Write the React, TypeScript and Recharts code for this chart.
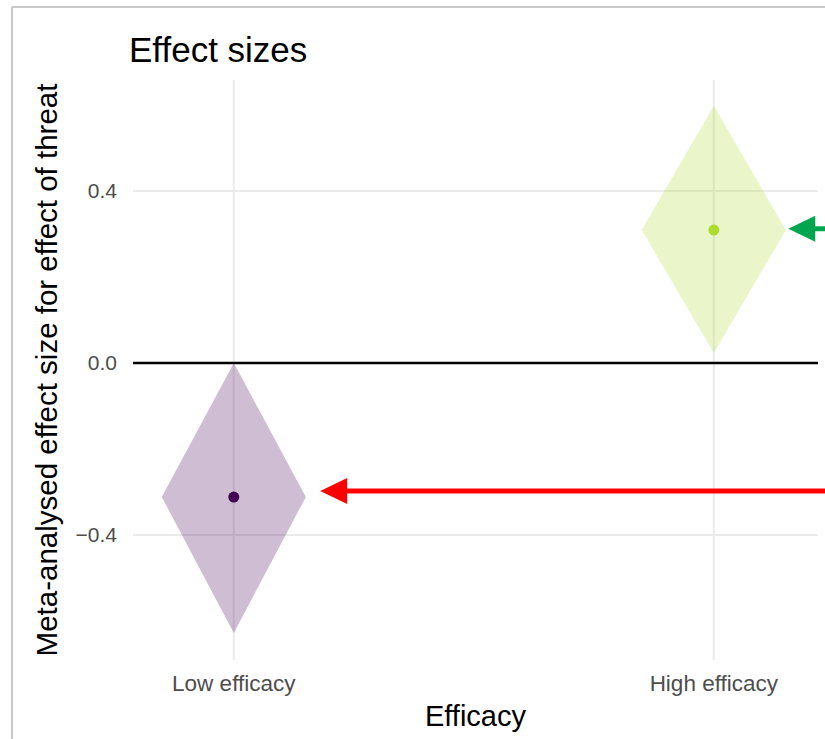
import React from 'react';
import {
  ComposedChart,
  Area,
  Scatter,
  XAxis,
  YAxis,
  CartesianGrid,
  ReferenceLine,
} from 'recharts';

// Values
const categories = ['Low efficacy', 'High efficacy'];
const categoryPos = [1, 2];
const estimates = [-0.312, 0.309];
const ciLower = [-0.628, 0.023];
const ciUpper = [0.0, 0.598];
const pointColors = ['#440154', '#addc30'];
const yTicks = [-0.4, 0, 0.4];

// annotation arrows (tip -> tail, in data units)
const arrowTips = [
  { x: 1.18, y: -0.298 },
  { x: 2.155, y: 0.312 },
];
const arrowTailX = 2.26;
const arrowColors = ['#ff0000', '#00a64f'];

const DIAMOND_HALF = 0.15;
const FONT = '"Liberation Sans", Arial, Helvetica, sans-serif';

const diamonds = categoryPos.map((c, i) => [
  { x: c - DIAMOND_HALF, r: [estimates[i], estimates[i]] },
  { x: c, r: [ciLower[i], ciUpper[i]] },
  { x: c + DIAMOND_HALF, r: [estimates[i], estimates[i]] },
]);

const points = categoryPos.map((c, i) => ({ x: c, y: estimates[i] }));

const fmtY = (v: number) => {
  if (v === 0) return '0.0';
  return (v < 0 ? '\u2212' : '') + Math.abs(v).toFixed(1);
};

const fmtX = (v: number) => categories[categoryPos.indexOf(v)] ?? '';

const makeArrow = (color: string) => (props: any) => {
  const { x1, y1, x2, y2 } = props;
  if ([x1, y1, x2, y2].some((v) => typeof v !== 'number' || isNaN(v))) return <g />;
  const dx = x2 - x1;
  const dy = y2 - y1;
  const len = Math.sqrt(dx * dx + dy * dy) || 1;
  const ux = dx / len;
  const uy = dy / len;
  const headLen = 27;
  const headHalf = 13;
  const bx = x1 + ux * headLen;
  const by = y1 + uy * headLen;
  const head = [
    `${x1},${y1}`,
    `${bx - uy * headHalf},${by + ux * headHalf}`,
    `${bx + uy * headHalf},${by - ux * headHalf}`,
  ].join(' ');
  return (
    <g>
      <line x1={bx - ux * 2} y1={by - uy * 2} x2={x2} y2={y2} stroke={color} strokeWidth={5} />
      <polygon points={head} fill={color} />
    </g>
  );
};

const Dot = (props: any) => {
  const { cx, cy, fill } = props;
  if (cx == null || cy == null) return <g />;
  return <circle cx={cx} cy={cy} r={5.5} fill={fill} />;
};

export default function App() {
  return (
    <div
      style={{
        position: 'absolute',
        left: 0,
        top: 0,
        width: 825,
        height: 739,
        overflow: 'hidden',
        background: '#fff',
        fontFamily: FONT,
      }}
    >
      <ComposedChart
        width={825}
        height={739}
        margin={{ top: 80, right: 7, bottom: 0, left: 0 }}
      >
        <CartesianGrid
          stroke="#ebebeb"
          strokeWidth={2}
          horizontalValues={yTicks}
          verticalValues={categoryPos}
        />
        <XAxis
          dataKey="x"
          type="number"
          domain={[0.79, 2.217]}
          allowDataOverflow
          ticks={categoryPos}
          tickFormatter={fmtX}
          axisLine={false}
          tickLine={false}
          tickSize={0}
          tickMargin={15}
          height={79}
          tick={{ fontSize: 22.5, fill: '#4d4d4d' }}
          label={{ value: 'Efficacy', position: 'insideBottom', offset: 13, fontSize: 29, fill: '#000' }}
        />
        <YAxis
          type="number"
          domain={[-0.691, 0.658]}
          allowDataOverflow
          ticks={yTicks}
          tickFormatter={fmtY}
          axisLine={false}
          tickLine={false}
          tickSize={0}
          tickMargin={16}
          width={133}
          tick={{ fontSize: 21, fill: '#4d4d4d' }}
          label={{
            value: 'Meta-analysed effect size for effect of threat',
            angle: -90,
            position: 'insideLeft',
            offset: 47,
            fontSize: 29.5,
            fill: '#000',
            style: { textAnchor: 'middle' },
          }}
        />
        {diamonds.map((d, i) => (
          <Area
            key={`d${i}`}
            data={d}
            dataKey="r"
            type="linear"
            stroke="none"
            fill={pointColors[i]}
            fillOpacity={0.26}
            isAnimationActive={false}
            activeDot={false}
            dot={false}
          />
        ))}
        <ReferenceLine y={0} stroke="#000" strokeWidth={2.5} />
        {points.map((p, i) => (
          <Scatter
            key={`p${i}`}
            data={[p]}
            dataKey="y"
            fill={pointColors[i]}
            shape={<Dot />}
            isAnimationActive={false}
          />
        ))}
        {arrowTips.map((t, i) => (
          <ReferenceLine
            key={`a${i}`}
            segment={[
              { x: t.x, y: t.y },
              { x: arrowTailX, y: t.y },
            ]}
            ifOverflow="visible"
            stroke={arrowColors[i]}
            shape={makeArrow(arrowColors[i])}
          />
        ))}
      </ComposedChart>
      <svg
        width={825}
        height={739}
        style={{ position: 'absolute', left: 0, top: 0, pointerEvents: 'none' }}
      >
        <line x1={12} y1={7} x2={825} y2={7} stroke="#c9c9c9" strokeWidth={2} />
        <line x1={12} y1={7} x2={12} y2={739} stroke="#c9c9c9" strokeWidth={2} />
        <text x={129} y={62} fontSize={35} fill="#000" fontFamily={FONT}>
          Effect sizes
        </text>
      </svg>
    </div>
  );
}
